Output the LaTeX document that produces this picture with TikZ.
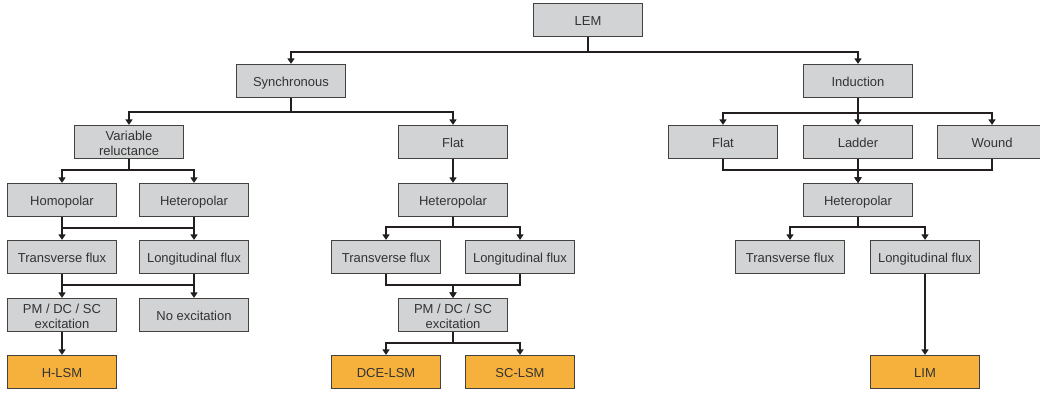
\documentclass[tikz,border=0pt]{standalone}
\usepackage{fontspec}
\setmainfont{Liberation Sans}
\usetikzlibrary{arrows.meta,calc}
\definecolor{boxgray}{HTML}{D1D3D4}
\definecolor{boxorange}{HTML}{F6B13D}
\definecolor{linecol}{HTML}{231F20}
\definecolor{txtcol}{HTML}{333333}
\newcommand{\twoline}[2]{\begin{tabular}[t]{@{}c@{}}#1\\#2\end{tabular}}
\begin{document}
\begin{tikzpicture}[x=1pt,y=-1pt,
  boxbase/.style={draw=linecol!85,line width=1.2pt,fill=boxgray,minimum width=109pt,minimum height=33pt,
    inner sep=0pt,text=txtcol,font=\fontsize{13}{15.5}\selectfont},
  box/.style={boxbase,text height=11.3pt,text depth=0.6pt},
  tbox/.style={boxbase,text height=10pt,text depth=13.7pt},
  obox/.style={box,fill=boxorange},
  conn/.style={draw=linecol,line width=1.9pt},
  arr/.style={conn,-{Triangle[width=7pt,length=5.5pt]}}]
\useasboundingbox (0,0) rectangle (1040,394);
\clip (0,0) rectangle (1040,394);
% nodes
\node[box] (lem) at (588,20) {LEM};
\node[box] (syn) at (291,81) {Synchronous};
\node[box] (ind) at (858,81) {Induction};
\node[tbox] (vr) at (129,142) {\twoline{Variable}{reluctance}};
\node[box] (fla) at (453,142) {Flat};
\node[box] (flb) at (723,142) {Flat};
\node[box] (lad) at (858,142) {Ladder};
\node[box] (wou) at (992,142) {Wound};
\node[box] (hom) at (62,200) {Homopolar};
\node[box] (hea) at (194,200) {Heteropolar};
\node[box] (heb) at (453,200) {Heteropolar};
\node[box] (hec) at (858,200) {Heteropolar};
\node[box] (tfa) at (62,257) {Transverse flux};
\node[box] (lfa) at (194,257) {Longitudinal flux};
\node[box] (tfb) at (386,257) {Transverse flux};
\node[box] (lfb) at (520,257) {Longitudinal flux};
\node[box] (tfc) at (790,257) {Transverse flux};
\node[box] (lfc) at (925,257) {Longitudinal flux};
\node[tbox] (pma) at (62,315) {\twoline{PM / DC / SC}{excitation}};
\node[box] (noe) at (194,315) {No excitation};
\node[tbox] (pmb) at (453,315) {\twoline{PM / DC / SC}{excitation}};
\node[obox] (hlsm) at (62,372) {H-LSM};
\node[obox] (dce) at (386,372) {DCE-LSM};
\node[obox] (sc) at (520,372) {SC-LSM};
\node[obox] (lim) at (925,372) {LIM};
% connectors
\draw[arr] (lem.south) -- ++(0,14.5) -| (syn.north);
\draw[arr] (lem.south) -- ++(0,14.5) -| (ind.north);
\draw[arr] (syn.south) -- ++(0,13.5) -| (vr.north);
\draw[arr] (syn.south) -- ++(0,13.5) -| (fla.north);
\draw[arr] (vr.south) -- ++(0,10.5) -| (hom.north);
\draw[arr] (vr.south) -- ++(0,10.5) -| (hea.north);
\draw[arr] (hom.south) -- ++(0,10.5) -| (lfa.north);
\draw[arr] (hea.south) -- ++(0,10.5) -| (tfa.north);
\draw[arr] (tfa.south) -- ++(0,10.5) -| (noe.north);
\draw[arr] (lfa.south) -- ++(0,10.5) -| (pma.north);
\draw[arr] (pma.south) -- (hlsm.north);
\draw[arr] (fla.south) -- (heb.north);
\draw[arr] (heb.south) -- ++(0,9.5) -| (tfb.north);
\draw[arr] (heb.south) -- ++(0,9.5) -| (lfb.north);
\draw[arr] (tfb.south) -- ++(0,10.5) -| (pmb.north);
\draw[arr] (lfb.south) -- ++(0,10.5) -| (pmb.north);
\draw[arr] (pmb.south) -- ++(0,10.5) -| (dce.north);
\draw[arr] (pmb.south) -- ++(0,10.5) -| (sc.north);
\draw[arr] (ind.south) -- ++(0,14.5) -| (flb.north);
\draw[arr] (ind.south) -- ++(0,14.5) -| (lad.north);
\draw[arr] (ind.south) -- ++(0,14.5) -| (wou.north);
\draw[arr] (flb.south) -- ++(0,10.5) -| (hec.north);
\draw[arr] (wou.south) -- ++(0,10.5) -| (hec.north);
\draw[arr] (lad.south) -- (hec.north);
\draw[arr] (hec.south) -- ++(0,9.5) -| (tfc.north);
\draw[arr] (hec.south) -- ++(0,9.5) -| (lfc.north);
\draw[arr] (lfc.south) -- (lim.north);
\end{tikzpicture}
\end{document}
